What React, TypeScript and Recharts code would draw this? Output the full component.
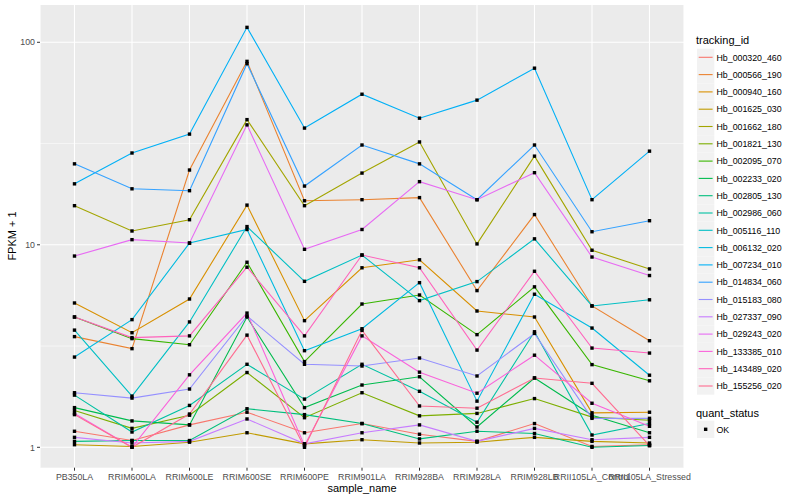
import React from "react";
import { LineChart, Line, XAxis, YAxis, CartesianGrid, ReferenceLine } from "recharts";

const samples = [
  "PB350LA", "RRIM600LA", "RRIM600LE", "RRIM600SE", "RRIM600PE", "RRIM901LA",
  "RRIM928BA", "RRIM928LA", "RRIM928LB", "RRII105LA_Control", "RRII105LA_Stressed",
];

const trackingIds = [
  "Hb_000320_460", "Hb_000566_190", "Hb_000940_160", "Hb_001625_030", "Hb_001662_180",
  "Hb_001821_130", "Hb_002095_070", "Hb_002233_020", "Hb_002805_130", "Hb_002986_060",
  "Hb_005116_110", "Hb_006132_020", "Hb_007234_010", "Hb_014834_060", "Hb_015183_080",
  "Hb_027337_090", "Hb_029243_020", "Hb_133385_010", "Hb_143489_020", "Hb_155256_020",
];

const seriesColors = [
  "#F8766D", "#EA8331", "#D89000", "#C09B00", "#A3A500",
  "#7CAE00", "#39B600", "#00BB4E", "#00BF7D", "#00C1A3",
  "#00BFC4", "#00BAE0", "#00B0F6", "#35A2FF", "#9590FF",
  "#C77CFF", "#E76BF3", "#FA62DB", "#FF62BC", "#FF6C91",
];

// FPKM + 1 per sample (order of `samples`)
const hb000320_460 = [1.2, 1.08, 1.29, 1.49, 1.18, 1.31, 1.16, 1.07, 1.31, 1.01, 1.03];
const hb000566_190 = [3.52, 3.07, 23.4, 80.5, 16.5, 16.7, 17.1, 5.94, 14.1, 4.99, 3.36];
const hb000940_160 = [5.16, 3.68, 5.4, 15.7, 4.22, 7.7, 8.43, 4.71, 4.4, 1.48, 1.49];
const hb001625_030 = [1.03, 1.01, 1.06, 1.18, 1.04, 1.09, 1.05, 1.06, 1.12, 1.07, 1.05];
const hb001662_180 = [15.6, 11.7, 13.3, 41.5, 15.6, 22.6, 32.2, 10.1, 27.4, 9.4, 7.6];
const hb001821_130 = [1.52, 1.24, 1.44, 2.34, 1.4, 1.86, 1.43, 1.47, 1.74, 1.41, 1.36];
const hb002095_070 = [4.4, 3.44, 3.21, 8.2, 2.65, 5.1, 5.65, 3.6, 6.2, 2.56, 2.13];
const hb002233_020 = [1.57, 1.35, 1.29, 4.4, 1.57, 2.03, 2.23, 1.26, 2.2, 1.44, 1.18];
const hb002805_130 = [1.07, 1.08, 1.08, 1.55, 1.45, 1.31, 1.1, 1.2, 1.17, 1.0, 1.02];
const hb002986_060 = [1.81, 1.19, 1.61, 2.57, 1.73, 2.57, 1.89, 1.33, 3.72, 1.15, 1.31];
const hb005116_110 = [3.79, 1.79, 4.16, 12.3, 6.6, 8.9, 5.3, 6.58, 10.7, 4.99, 5.35];
const hb006132_020 = [2.79, 4.27, 10.2, 11.9, 3.0, 3.85, 6.5, 1.69, 5.7, 3.88, 2.27];
const hb007234_010 = [20.0, 28.4, 35.2, 118.5, 37.7, 55.4, 42.2, 51.8, 74.5, 16.7, 29.0];
const hb014834_060 = [25.1, 18.9, 18.5, 78.4, 19.5, 31.1, 25.1, 16.7, 31.1, 11.6, 13.15];
const hb015183_080 = [1.86, 1.75, 1.94, 4.45, 2.57, 2.52, 2.76, 2.25, 3.65, 1.39, 1.39];
const hb027337_090 = [1.12, 1.05, 1.07, 1.38, 1.04, 1.18, 1.29, 1.07, 1.24, 1.09, 1.12];
const hb029243_020 = [8.8, 10.6, 10.2, 39.1, 9.5, 11.9, 20.5, 16.7, 22.7, 8.7, 7.05];
const hb133385_010 = [1.47, 1.0, 2.28, 4.6, 1.02, 3.55, 2.35, 1.85, 2.85, 1.65, 1.27];
const hb143489_020 = [4.4, 3.48, 3.55, 7.75, 3.55, 8.9, 7.7, 3.02, 7.4, 3.09, 2.92];
const hb155256_020 = [1.45, 1.0, 1.46, 3.58, 1.0, 3.78, 1.6, 1.56, 2.2, 2.07, 1.02];

const seriesValues = [
  hb000320_460, hb000566_190, hb000940_160, hb001625_030, hb001662_180,
  hb001821_130, hb002095_070, hb002233_020, hb002805_130, hb002986_060,
  hb005116_110, hb006132_020, hb007234_010, hb014834_060, hb015183_080,
  hb027337_090, hb029243_020, hb133385_010, hb143489_020, hb155256_020,
];

const yTicks = [1, 10, 100];
const yMinor = [3.1623, 31.623];

const data = samples.map((name, i) => {
  const row: Record<string, any> = { sample_name: name };
  trackingIds.forEach((id, k) => {
    row[id] = seriesValues[k][i];
  });
  return row;
});

const FONT = "'Liberation Sans', Arial, Helvetica, sans-serif";

const SquareDot = (props: any) => {
  const { cx, cy, index } = props;
  if (cx == null || cy == null) return <g key={`d-${index}`} />;
  return <rect key={`d-${index}`} x={cx - 1.7} y={cy - 1.7} width={3.4} height={3.4} fill="#000000" />;
};

const XTick = (props: any) => {
  const { x, y, payload } = props;
  return (
    <text x={x} y={y} dy={7} textAnchor="middle" fontSize={8.8} fill="#4D4D4D" fontFamily={FONT}>
      {payload.value}
    </text>
  );
};

const YTick = (props: any) => {
  const { x, y, payload } = props;
  return (
    <text x={x} y={y} dy={3.2} textAnchor="end" fontSize={8.8} fill="#4D4D4D" fontFamily={FONT}>
      {String(payload.value)}
    </text>
  );
};

const LegendOverlay = () => {
  const keyX = 697;
  const keyW = 17.3;
  const y0 = 57.3;
  const step = 17.3;
  return (
    <svg width={800} height={500} style={{ position: "absolute", left: 0, top: 0, pointerEvents: "none" }}>
      <text x={16} y={236} transform="rotate(-90 16 236)" textAnchor="middle" fontSize={11} fill="#000" fontFamily={FONT}>
        FPKM + 1
      </text>
      <text x={362} y={492} textAnchor="middle" fontSize={11} fill="#000" fontFamily={FONT}>
        sample_name
      </text>
      <text x={696} y={43.5} fontSize={11} fill="#000" fontFamily={FONT}>tracking_id</text>
      {trackingIds.map((id, k) => {
        const cy = y0 + k * step;
        return (
          <g key={id}>
            <rect x={keyX} y={cy - keyW / 2} width={keyW} height={keyW} fill="#F2F2F2" />
            <line x1={keyX + 1.7} x2={keyX + keyW - 1.7} y1={cy} y2={cy} stroke={seriesColors[k]} strokeWidth={1.1} />
            <text x={716.5} y={cy + 3.2} fontSize={8.8} fill="#000" fontFamily={FONT}>{id}</text>
          </g>
        );
      })}
      <text x={696} y={416.5} fontSize={11} fill="#000" fontFamily={FONT}>quant_status</text>
      <rect x={keyX} y={429.3 - keyW / 2} width={keyW} height={keyW} fill="#F2F2F2" />
      <rect x={keyX + keyW / 2 - 1.7} y={429.3 - 1.7} width={3.4} height={3.4} fill="#000" />
      <text x={716.5} y={432.5} fontSize={8.8} fill="#000" fontFamily={FONT}>OK</text>
    </svg>
  );
};

export default function App() {
  return (
    <div style={{ position: "absolute", left: 0, top: 0, width: 800, height: 500, background: "#FFFFFF" }}>
      <div style={{ position: "absolute", left: 0, top: 0 }}>
        <LineChart width={800} height={500} data={data} margin={{ top: 5, right: 116, bottom: 0, left: 0 }}>
          <CartesianGrid fill="#EBEBEB" stroke="#FFFFFF" strokeWidth={1.1} horizontal={false} vertical={true} />
          {yMinor.map((v) => (
            <ReferenceLine key={`mn-${v}`} y={v} stroke="#FFFFFF" strokeWidth={0.55} zIndex={-50} />
          ))}
          {yTicks.map((v) => (
            <ReferenceLine key={`mj-${v}`} y={v} stroke="#FFFFFF" strokeWidth={1.1} zIndex={-50} />
          ))}
          <XAxis
            dataKey="sample_name"
            interval={0}
            padding={{ left: 34.5, right: 34.5 }}
            axisLine={false}
            tickSize={3}
            tickLine={{ stroke: "#333333" }}
            height={32.3}
            tick={XTick}
          />
          <YAxis
            type="number"
            scale="log"
            domain={[0.793, 152.8]}
            allowDataOverflow
            ticks={yTicks}
            width={40}
            axisLine={false}
            tickSize={3}
            tickLine={{ stroke: "#333333" }}
            tick={YTick}
          />
          {trackingIds.map((id, k) => (
            <Line
              key={`l-${id}`}
              type="linear"
              dataKey={id}
              stroke={seriesColors[k]}
              strokeWidth={1.1}
              dot={false}
              activeDot={false}
              isAnimationActive={false}
            />
          ))}
          {trackingIds.map((id) => (
            <Line
              key={`p-${id}`}
              type="linear"
              dataKey={id}
              stroke="none"
              strokeWidth={0}
              dot={SquareDot}
              activeDot={false}
              isAnimationActive={false}
            />
          ))}
        </LineChart>
      </div>
      <LegendOverlay />
    </div>
  );
}
